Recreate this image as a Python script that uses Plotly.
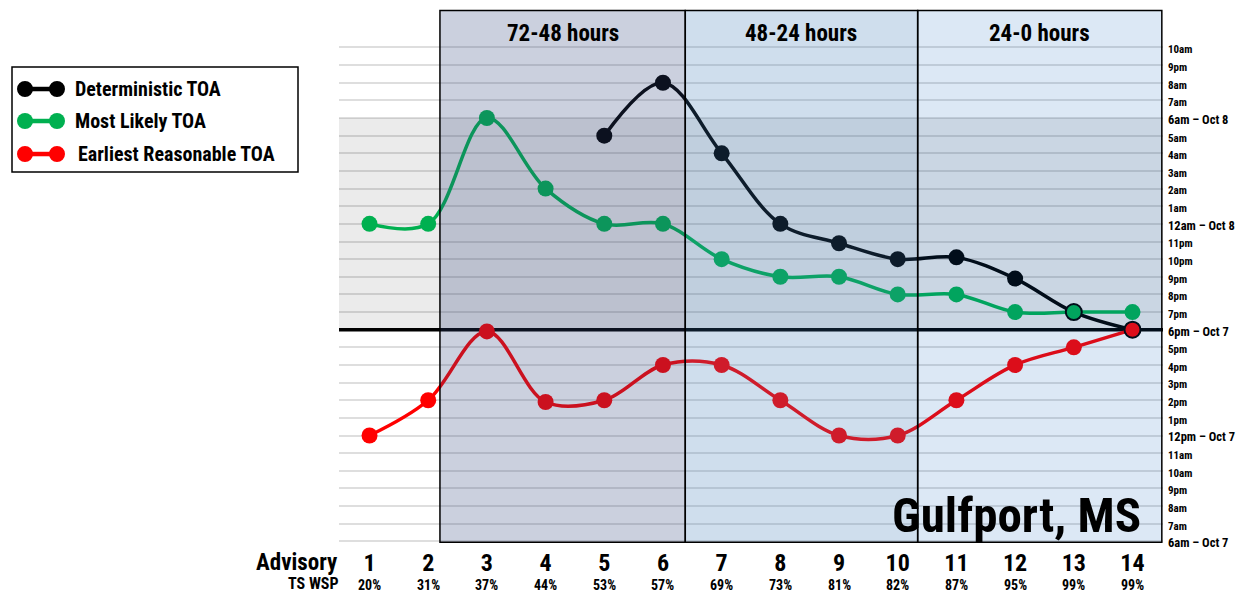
import plotly.graph_objects as go

# ---------------- data ----------------
advisories = list(range(1, 15))
wsp_labels = ["20%", "31%", "37%", "44%", "53%", "57%", "69%", "73%", "81%", "82%",
              "87%", "95%", "99%", "99%"]
# values are hours after 6am Oct 7
deterministic_adv = [5, 6, 7, 8, 9, 10, 11, 12, 13, 14]
deterministic_hr = [23, 26, 22, 18, 16.9, 16, 16.1, 14.9, 13, 12]
likely_hr = [18, 18, 24, 20, 18, 18, 16, 15, 15, 14, 14, 13, 13, 13]
earliest_hr = [6, 8, 11.9, 7.9, 8, 10, 10, 8, 6, 6, 8, 10, 11, 12]

hour_labels = ["6am \u2013 Oct 7", "7am", "8am", "9pm", "10am", "11am",
               "12pm \u2013 Oct 7", "1pm", "2pm", "3pm", "4pm", "5pm",
               "6pm \u2013 Oct 7", "7pm", "8pm", "9pm", "10pm", "11pm",
               "12am \u2013 Oct 8", "1am", "2am", "3am", "4am", "5am",
               "6am \u2013 Oct 8", "7am", "8am", "9pm", "10am"]
major_hours = [0, 6, 12, 18, 24]

periods = ["72-48 hours", "48-24 hours", "24-0 hours"]
period_edges = [2.2, 6.38, 10.34, 14.5]
period_fills = ["rgba(48,67,123,0.25)", "rgba(55,117,180,0.24)", "rgba(5,91,184,0.14)"]

series_names = ["Deterministic TOA", "Most Likely TOA", "Earliest Reasonable TOA"]
series_colors = ["#000000", "#00B050", "#FF0000"]

# ---------------- layout helpers ----------------
FONT = "Roboto Condensed, DejaVu Sans Condensed, Arial Narrow, sans-serif"
OFF = 8  # page body margin of the html page
W, H = 1240, 584
L, R, T, B = 331, 85, 0, 48.1
PW, PH = W - L - R, H - T - B
Y_RANGE = [-0.15, 30.238]


def px(x):
    """screen pixel x -> paper x"""
    return (x - OFF - L) / PW


def py(y):
    """screen pixel y -> paper y"""
    return (H - B - (y - OFF)) / PH


fig = go.Figure()

det_map = dict(zip(deterministic_adv, deterministic_hr))


def outline(values):
    cols, widths = [], []
    for a, v in zip(advisories, values):
        hit = a in det_map and abs(det_map[a] - v) < 0.01
        cols.append("#000000" if hit else "rgba(0,0,0,0)")
        widths.append(2 if hit else 0)
    return cols, widths


fig.add_trace(go.Scatter(
    x=deterministic_adv, y=deterministic_hr, mode="lines+markers",
    name=series_names[0],
    line=dict(color=series_colors[0], width=3.5, shape="spline", smoothing=1.0),
    marker=dict(color=series_colors[0], size=16),
    showlegend=False))

for name, vals, col in [(series_names[1], likely_hr, series_colors[1]),
                        (series_names[2], earliest_hr, series_colors[2])]:
    lc, lw = outline(vals)
    fig.add_trace(go.Scatter(
        x=advisories, y=vals, mode="lines+markers", name=name,
        line=dict(color=col, width=3.5, shape="spline", smoothing=1.0),
        marker=dict(color=col, size=16, line=dict(color=lc, width=lw)),
        showlegend=False))

shapes = []
# grey band between 6pm Oct 7 and 6am Oct 8
shapes.append(dict(type="rect", xref="paper", yref="y", x0=0, x1=1, y0=12, y1=24,
                   fillcolor="#EBEBEB", line=dict(width=0), layer="below"))
# 6pm line
shapes.append(dict(type="line", xref="paper", yref="y", x0=0, x1=1, y0=12, y1=12,
                   line=dict(color="#000000", width=3.5), layer="between"))
# period overlays
for i in range(3):
    shapes.append(dict(type="rect", xref="x", yref="y",
                       x0=period_edges[i], x1=period_edges[i + 1], y0=-0.05, y1=30.1,
                       fillcolor=period_fills[i], line=dict(color="#000000", width=1.5),
                       layer="above"))

annotations = []
for i, p in enumerate(periods):
    annotations.append(dict(xref="x", yref="paper",
                            x=(period_edges[i] + period_edges[i + 1]) / 2, y=py(33),
                            text="<b>%s</b>" % p, showarrow=False,
                            font=dict(family=FONT, size=23, color="#000000"),
                            xanchor="center", yanchor="middle"))

# bottom labels
for a, w in zip(advisories, wsp_labels):
    annotations.append(dict(xref="x", yref="paper", x=a, y=py(585), text="<b>%s</b>" % w,
                            showarrow=False, font=dict(family=FONT, size=14, color="#000"),
                            xanchor="center", yanchor="middle"))
annotations.append(dict(xref="paper", yref="paper", x=px(340), y=py(562),
                        text="<b>Advisory</b>", showarrow=False,
                        font=dict(family=FONT, size=23, color="#000"),
                        xanchor="right", yanchor="middle"))
annotations.append(dict(xref="paper", yref="paper", x=px(341), y=py(583.5),
                        text="<b>TS WSP</b>", showarrow=False,
                        font=dict(family=FONT, size=16, color="#000"),
                        xanchor="right", yanchor="middle"))

# location title
annotations.append(dict(xref="paper", yref="paper", x=px(1143), y=py(515),
                        text="<b>Gulfport, MS</b>", showarrow=False,
                        font=dict(family=FONT, size=49, color="#000"),
                        xanchor="right", yanchor="middle"))

# custom legend
shapes.append(dict(type="rect", xref="paper", yref="paper",
                   x0=px(12), x1=px(298), y0=py(172), y1=py(67),
                   fillcolor="#FFFFFF", line=dict(color="#000000", width=1.5), layer="above"))
legend_rows = [89, 121, 154]
legend_text_x = [73, 73, 76]
for name, col, ry, tx in zip(series_names, series_colors, legend_rows, legend_text_x):
    shapes.append(dict(type="line", xref="paper", yref="paper",
                       x0=px(25), x1=px(57), y0=py(ry), y1=py(ry),
                       line=dict(color=col, width=4.5), layer="above"))
    for cx in (25, 57):
        shapes.append(dict(type="circle", xref="paper", yref="paper",
                           x0=px(cx - 8), x1=px(cx + 8), y0=py(ry + 8), y1=py(ry - 8),
                           fillcolor=col, line=dict(color=col, width=0), layer="above"))
    annotations.append(dict(xref="paper", yref="paper", x=px(tx), y=py(ry),
                            text="<b>%s</b>" % name, showarrow=False,
                            font=dict(family=FONT, size=20, color="#000"),
                            xanchor="left", yanchor="middle"))

ytext = []
for h, lab in enumerate(hour_labels):
    if h in major_hours:
        ytext.append("<b><span style='font-size:12.5px'>%s</span></b>" % lab)
    else:
        ytext.append("<b>%s</b>" % lab)

fig.update_layout(
    width=W, height=H,
    margin=dict(l=L, r=R, t=T, b=B, pad=0, autoexpand=False),
    paper_bgcolor="#FFFFFF", plot_bgcolor="#FFFFFF",
    shapes=shapes, annotations=annotations,
    showlegend=False,
    font=dict(family=FONT, color="#000000"),
    xaxis=dict(range=[0.48, 14.52], tickvals=advisories,
               ticktext=["<b>%d</b>" % a for a in advisories],
               tickfont=dict(family=FONT, size=24, color="#000"),
               showgrid=False, zeroline=False, showline=False, ticks="",
               ticklabelstandoff=2, fixedrange=True, automargin=False),
    yaxis=dict(range=Y_RANGE, side="right", tickvals=list(range(29)),
               ticktext=ytext, tickfont=dict(family=FONT, size=11, color="#000"),
               showgrid=True, gridcolor="rgba(0,0,0,0.13)", gridwidth=2,
               zeroline=False, showline=False, ticks="", ticklabelstandoff=4,
               ticklabelshift=2, fixedrange=True, automargin=False),
)

fig.write_html("out.html")
